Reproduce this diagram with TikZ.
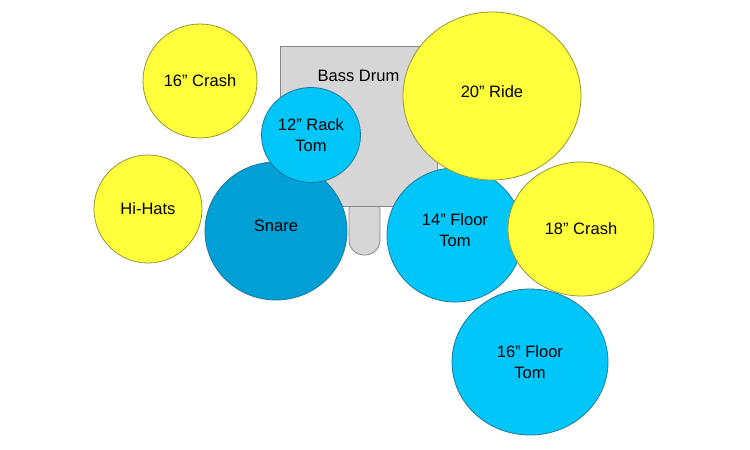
\documentclass[tikz,border=0pt]{standalone}
\usepackage{fontspec}
\setmainfont{Liberation Sans}
\usepackage{tikz}
\usetikzlibrary{shapes.geometric,positioning}
\usepackage{xcolor}
\definecolor{tomblue}{RGB}{0,198,250}
\definecolor{snareblue}{RGB}{0,160,214}
\definecolor{tomedge}{RGB}{30,120,160}
\definecolor{cymyellow}{RGB}{255,255,60}
\definecolor{cymedge}{RGB}{150,150,50}
\definecolor{shellgray}{RGB}{214,214,214}
\definecolor{shelledge}{RGB}{135,135,135}

\begin{document}
\begin{tikzpicture}[x=1pt,y=-1pt,
    every label/.style={align=center,font=\fontsize{16.5}{21}\selectfont},
    drum/.style={ellipse,draw=tomedge,fill=tomblue,line width=0.8pt,inner sep=0pt,align=center,font=\fontsize{16.5}{21}\selectfont},
    cymbal/.style={drum,draw=cymedge,fill=cymyellow},
    shell/.style={draw=shelledge,fill=shellgray,line width=0.8pt,inner sep=0pt}]
    \useasboundingbox (0,0) rectangle (750,450);

    % Bass drum and pedal
    \node[shell,rounded corners=15pt,minimum width=31pt,minimum height=60pt] (pedal) at (364.5,225) {};
    \node[shell,minimum width=157pt,minimum height=160pt] (bass) at (358.5,126) {};
    \node[font=\fontsize{16.5}{21}\selectfont] (basslabel) at ([yshift=-30pt]bass.north) {Bass Drum};

    % Left side
    \node[cymbal,minimum width=114pt,minimum height=114pt] (crash16) at (200,81) {16” Crash};
    \node[cymbal,minimum width=108pt,minimum height=108pt] (hihat) at (148,209) {Hi-Hats};
    \node[drum,fill=snareblue,minimum width=142pt,minimum height=138pt,
        label={[yshift=5pt]center:Snare}] (snare) at (276,231) {};
    \node[drum,minimum width=99pt,minimum height=95pt] (racktom) at (311,135) {12” Rack\\Tom};

    % Right side
    \node[drum,minimum width=136pt,minimum height=134pt,
        label={[yshift=5pt]center:14” Floor\\Tom}] (floor14) at (455,235) {};
    \node[cymbal,minimum width=178pt,minimum height=168pt,
        label={[yshift=4pt]center:20” Ride}] (ride) at (492,96) {};
    \node[drum,minimum width=156pt,minimum height=146pt] (floor16) at (530,362) {16” Floor\\Tom};
    \node[cymbal,minimum width=146pt,minimum height=134pt] (crash18) at (581,229) {18” Crash};
\end{tikzpicture}
\end{document}
